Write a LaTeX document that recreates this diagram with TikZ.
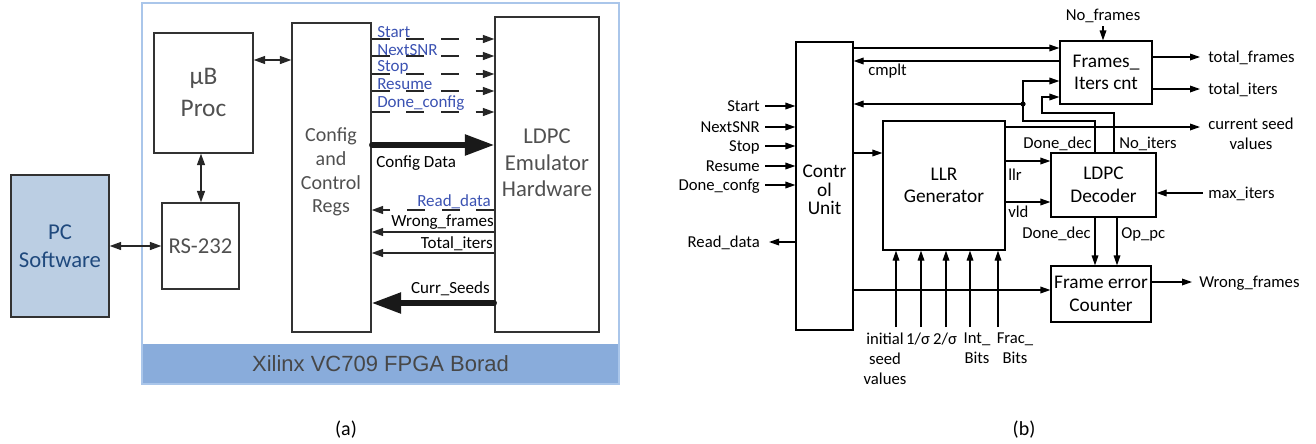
\documentclass[tikz,border=0pt]{standalone}
\usepackage{fontspec}
\setmainfont{Carlito}
\newfontfamily\arialfont{Liberation Sans}
\usetikzlibrary{arrows.meta,fit,calc}
\definecolor{boardline}{RGB}{170,198,234}
\definecolor{barblue}{RGB}{137,172,219}
\definecolor{pcfill}{RGB}{187,206,227}
\definecolor{pctext}{RGB}{31,73,125}
\definecolor{boxtext}{RGB}{80,80,80}
\definecolor{sigblue}{RGB}{59,82,178}
\definecolor{boxline}{RGB}{50,50,50}
\tikzset{
 sz/.style 2 args={minimum width={(#1)*0.75pt}, minimum height={(#2)*0.75pt}},
 abox/.style={draw=boxline, line width=1.1pt, inner sep=0pt, align=center, text=boxtext, font=\fontsize{17}{21}\selectfont},
 atext/.style={inner sep=0pt, align=center, text=boxtext},
 bbox/.style={draw=black, line width=0.9pt, inner sep=0pt, align=center, font=\fontsize{14.5}{17}\selectfont},
 alab/.style={font=\fontsize{12.75}{15}\selectfont, inner sep=0pt},
 blab/.style={font=\fontsize{12.5}{15}\selectfont, inner sep=0pt, align=center},
 aarr/.style={line width=0.9pt, draw=black!85, -{Triangle[length=8.5pt,width=6pt]}},
 aarrtwo/.style={line width=0.9pt, draw=black!85, {Triangle[length=8.5pt,width=6pt]}-{Triangle[length=8.5pt,width=6pt]}},
 dasharr/.style={aarr, dash pattern=on 13.5pt off 12.5pt},
 thickarr/.style={line width=4pt, line cap=round, draw=black!90, -{Triangle[length=22pt,width=15pt]}},
 barr/.style={line width=0.9pt, -{Triangle[length=7.5pt,width=5pt]}},
 bline/.style={line width=0.9pt},
}
\begin{document}
\begin{tikzpicture}[x=0.75pt,y=-0.75pt]
\useasboundingbox (0,0) rectangle (1316,443);
% ---------------- panel (a) ----------------
\node[draw=boardline, line width=1.3pt, inner sep=0pt, fit={(142,3)(619,384)}] (board) {};
\node[fill=barblue, inner sep=0pt, sz={475.4}{39.2}, font=\arialfont\fontsize{16.5}{19}\selectfont, text=black!72] (bar) at (380.5,363.6) {Xilinx VC709 FPGA Borad};
\node[abox, fill=pcfill, text=pctext, sz={98}{142}] (pc) at (60,246) {PC\\Software};
\node[abox, sz={77}{86}] (rs) at (200.5,246) {RS-232};
\node[abox, sz={99}{120}] (ub) at (203.5,93) {};
\node[atext, font=\fontsize{19}{24}\selectfont] (ubtxt) at (203.5,92) {µB\\Proc};
\node[abox, sz={79}{309}] (cfg) at (331.5,177.5) {};
\node[atext, font=\fontsize{15}{17.8}\selectfont] (cfgtxt) at (331,172) {Config\\and\\Control\\Regs};
\node[abox, sz={104}{315}] (emu) at (547,174.5) {};
\node[atext, font=\fontsize{17}{20}\selectfont] (emutxt) at (547,163) {LDPC\\Emulator\\Hardware};
% connectors (a)
\coordinate (yub) at (0,60);
\draw[aarrtwo] (ub.east |- yub) -- (cfg.west |- yub);
\coordinate (xub) at (201,0);
\draw[aarrtwo] (ub.south -| xub) -- (rs.north -| xub);
\coordinate (ypc) at (0,246);
\draw[aarrtwo] (pc.east |- ypc) -- (rs.west |- ypc);
\foreach \nm/\yy/\bb/\tx in {sgA/39/37.5/Start, sgB/56/55/NextSNR, sgC/74/71.5/Stop, sgD/91/89.5/Resume, sgE/112/107.5/Done\_config} {
  \coordinate (\nm) at (0,\yy);
  \draw[dasharr] (cfg.east |- \nm) -- (emu.west |- \nm);
  \node[alab, text=sigblue, anchor=base west] (l\nm) at (377,\bb) {\tx};
}
\coordinate (ycd) at (0,145);
\draw[thickarr] (cfg.east |- ycd) -- (emu.west |- ycd);
\node[alab, anchor=base west] (lcd) at (376,167) {Config Data};
\coordinate (yrd) at (0,210);
\draw[dasharr] (emu.west |- yrd) -- (cfg.east |- yrd);
\node[alab, text=sigblue, anchor=base east] (lrd) at (491,206) {Read\_data};
\coordinate (ywf) at (0,232);
\draw[aarr] (emu.west |- ywf) -- (cfg.east |- ywf);
\node[alab, anchor=base east] (lwf) at (494,226.5) {Wrong\_frames};
\coordinate (yti) at (0,253);
\draw[aarr] (emu.west |- yti) -- (cfg.east |- yti);
\node[alab, anchor=base east] (lti) at (493,248) {Total\_iters};
\coordinate (ycs) at (0,303);
\draw[thickarr] (emu.west |- ycs) -- (cfg.east |- ycs);
\node[alab, anchor=base east] (lcs) at (490,293) {Curr\_Seeds};
\node[font=\fontsize{15}{17}\selectfont, inner sep=0pt] (capa) at (346,430) {(a)};
% ---------------- panel (b) ----------------
\node[bbox, sz={57}{288}] (cu) at (824.5,186) {};
\node[inner sep=0pt, align=center, font=\fontsize{14.5}{14}\selectfont] (cutxt) at (824.5,190) {Contr\\ol\\Unit};
\node[bbox, sz={122}{129}] (llr) at (944,185.5) {LLR\\Generator};
\node[bbox, sz={92}{63}] (fic) at (1106,72.5) {Frames\_\\Iters cnt};
\node[bbox, sz={105}{64}] (dec) at (1103.5,185) {LDPC\\Decoder};
\node[bbox, sz={100}{56}] (fec) at (1101,294) {Frame error\\Counter};
% inputs to control unit
\foreach \nm/\yy/\tx in {inA/106/Start, inB/127/NextSNR, inC/146/Stop, inD/166/Resume, inE/185/Done\_confg} {
  \coordinate (\nm) at (765,\yy);
  \draw[barr] (\nm) -- (cu.west |- \nm);
  \node[blab, anchor=base east] (l\nm) at (760,\yy+5) {\tx};
}
\coordinate (rdo) at (769,242);
\draw[barr] (cu.west |- rdo) -- (rdo);
\node[blab, anchor=base east] (lrdb) at (760,247) {Read\_data};
% control unit <-> frames/iters counter
\coordinate (y48) at (0,48);
\draw[barr] (cu.east |- y48) -- (fic.west |- y48);
\coordinate (y61) at (0,61);
\draw[barr] (fic.west |- y61) -- (cu.east |- y61);
\node[blab, anchor=base west] (lcmp) at (868,75) {cmplt};
% Done_dec feedback
\coordinate (dj) at (1023,104);
\coordinate (dd1) at (1095,121);
\coordinate (yfa) at (0,81);
\draw[bline] (dec.north -| dd1) -- (dd1) -- (dj |- dd1) -- (dj);
\draw[barr] (dj) -- (cu.east |- dj);
\draw[barr] (dj) -- (dj |- yfa) -- (fic.west |- yfa);
\fill (dj) circle (2.6);
\node[blab, anchor=base east] (ldd) at (1092,148) {Done\_dec};
% No_iters
\coordinate (ni) at (1114,113);
\coordinate (ni2) at (1042,97);
\draw[barr] (dec.north -| ni) -- (ni) -- (ni2 |- ni) -- (ni2) -- (fic.west |- ni2);
\node[blab, anchor=base west] (lni) at (1119,148) {No\_iters};
% No_frames
\coordinate (nf) at (1103,26);
\node[blab, anchor=base] (lnf) at (1103,20) {No\_frames};
\draw[barr] (nf) -- (fic.north -| nf);
% outputs of frames/iters counter
\coordinate (tfo) at (1200,57);
\draw[barr] (fic.east |- tfo) -- (tfo);
\node[blab, anchor=base west] (ltf) at (1208,62) {total\_frames};
\coordinate (tio) at (1200,89);
\draw[barr] (fic.east |- tio) -- (tio);
\node[blab, anchor=base west] (lti2) at (1208,94) {total\_iters};
% current seed values
\coordinate (cso) at (1200,127);
\draw[barr] (llr.east |- cso) -- (cso);
\node[blab, anchor=north] (lcsv) at (1251,118) {current seed\\values};
% control -> LLR
\coordinate (y153) at (0,153);
\draw[barr] (cu.east |- y153) -- (llr.west |- y153);
% LLR -> decoder
\coordinate (yllr) at (0,161);
\draw[barr] (llr.east |- yllr) -- (dec.west |- yllr);
\node[blab, anchor=base west] (lllr) at (1008,180) {llr};
\coordinate (yvld) at (0,202);
\draw[barr] (llr.east |- yvld) -- (dec.west |- yvld);
\node[blab, anchor=base west] (lvld) at (1008,217) {vld};
% max_iters
\coordinate (mxo) at (1203,193);
\draw[barr] (mxo) -- (dec.east |- mxo);
\node[blab, anchor=base west] (lmx) at (1208,198) {max\_iters};
% decoder -> frame error counter
\coordinate (xdd) at (1095,0);
\draw[barr] (dec.south -| xdd) -- (fec.north -| xdd);
\node[blab, anchor=base east] (ldd2) at (1091,238) {Done\_dec};
\coordinate (xop) at (1117,0);
\draw[barr] (dec.south -| xop) -- (fec.north -| xop);
\node[blab, anchor=base west] (lop) at (1121,238) {Op\_pc};
% control -> frame error counter
\coordinate (y290) at (0,290);
\draw[barr] (cu.east |- y290) -- (fec.west |- y290);
% wrong frames out
\coordinate (wfo) at (1192,282);
\draw[barr] (fec.east |- wfo) -- (wfo);
\node[blab, anchor=base west] (lwfb) at (1199,287) {Wrong\_frames};
% LLR inputs
\foreach \nm/\xx in {lqA/896, lqB/921, lqC/946, lqD/970, lqE/998} {
  \coordinate (\nm) at (\xx,327);
  \draw[barr] (\nm) -- (llr.south -| \nm);
}
\node[blab, anchor=north] (liv) at (885,333) {initial\\seed\\values};
\node[blab, anchor=north] (lis) at (918,333) {1/σ};
\node[blab, anchor=north] (lts) at (945,333) {2/σ};
\node[blab, anchor=north] (lib) at (977,333) {Int\_\\Bits};
\node[blab, anchor=north] (lfb) at (1015,333) {Frac\_\\Bits};
\node[font=\fontsize{15}{17}\selectfont, inner sep=0pt] (capb) at (1024,430) {(b)};
\end{tikzpicture}
\end{document}
